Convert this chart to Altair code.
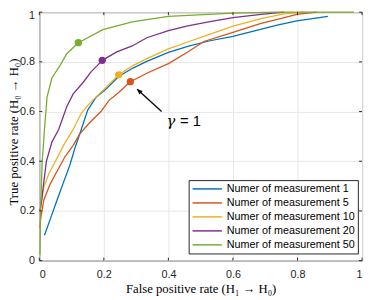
import altair as alt
import pandas as pd

series_labels = [
    "Numer of measurement 1",
    "Numer of measurement 5",
    "Numer of measurement 10",
    "Numer of measurement 20",
    "Numer of measurement 50",
]
series_colors = ["#0072BD", "#D95319", "#EDB120", "#7E2F8E", "#77AC30"]

fpr_m1 = [0.016, 0.034, 0.055, 0.075, 0.095, 0.11, 0.13, 0.15, 0.176, 0.206, 0.246, 0.29, 0.333, 0.4, 0.46, 0.525, 0.6, 0.667, 0.737, 0.798, 0.894]
tpr_m1 = [0.102, 0.167, 0.244, 0.315, 0.386, 0.451, 0.528, 0.606, 0.658, 0.69, 0.741, 0.775, 0.802, 0.838, 0.862, 0.884, 0.903, 0.925, 0.948, 0.965, 0.983]

fpr_m5 = [0.002, 0.004, 0.014, 0.034, 0.055, 0.08, 0.105, 0.125, 0.155, 0.191, 0.216, 0.246, 0.282, 0.333, 0.4, 0.46, 0.51, 0.6, 0.687, 0.75, 0.798, 0.859]
tpr_m5 = [0.13, 0.167, 0.244, 0.309, 0.36, 0.419, 0.464, 0.509, 0.554, 0.6, 0.645, 0.677, 0.72, 0.754, 0.793, 0.84, 0.882, 0.919, 0.955, 0.975, 0.991, 1.0]

fpr_m10 = [0.002, 0.006, 0.014, 0.029, 0.05, 0.075, 0.105, 0.13, 0.155, 0.186, 0.216, 0.246, 0.29, 0.333, 0.4, 0.46, 0.525, 0.6, 0.687, 0.758, 0.818]
tpr_m10 = [0.19, 0.231, 0.296, 0.348, 0.4, 0.464, 0.528, 0.593, 0.632, 0.671, 0.709, 0.748, 0.785, 0.813, 0.852, 0.88, 0.91, 0.944, 0.974, 0.993, 1.0]

fpr_m20 = [0.002, 0.006, 0.012, 0.022, 0.039, 0.06, 0.085, 0.105, 0.135, 0.161, 0.181, 0.195, 0.24, 0.288, 0.333, 0.4, 0.46, 0.525, 0.6, 0.687, 0.758]
tpr_m20 = [0.2, 0.23, 0.296, 0.4, 0.477, 0.528, 0.619, 0.671, 0.716, 0.761, 0.787, 0.806, 0.84, 0.864, 0.897, 0.926, 0.945, 0.961, 0.978, 0.991, 1.0]

fpr_m50 = [0.002, 0.004, 0.009, 0.016, 0.024, 0.039, 0.065, 0.085, 0.121, 0.197, 0.288, 0.333, 0.4, 0.6, 0.737, 0.975]
tpr_m50 = [0.024, 0.205, 0.4, 0.528, 0.658, 0.735, 0.787, 0.833, 0.877, 0.93, 0.961, 0.97, 0.983, 0.996, 1.0, 1.0]

dot_series = [series_labels[1], series_labels[2], series_labels[3], series_labels[4]]
dot_fpr = [0.282, 0.246, 0.195, 0.121]
dot_tpr = [0.72, 0.748, 0.806, 0.877]

tick_values = [0, 0.2, 0.4, 0.6, 0.8, 1]

arrow_tail = (0.379, 0.60)
arrow_tip = (0.303, 0.69)
note_symbol = "γ"
note_rest = "= 1"
note_symbol_pos = (0.408, 0.543)
note_rest_pos = (0.436, 0.543)

W, H = 330, 254
AX = "#262626"

rows = []
for lab, xs, ys in zip(series_labels,
                       [fpr_m1, fpr_m5, fpr_m10, fpr_m20, fpr_m50],
                       [tpr_m1, tpr_m5, tpr_m10, tpr_m20, tpr_m50]):
    for i, (a, b) in enumerate(zip(xs, ys)):
        rows.append({"series": lab, "fpr": a, "tpr": b, "i": i})
df = pd.DataFrame(rows)
dots = pd.DataFrame({"series": dot_series, "fpr": dot_fpr, "tpr": dot_tpr})
ticks = pd.DataFrame({"t": tick_values})

xs = alt.Scale(domain=[0, 1], nice=False, zero=False)
ys = alt.Scale(domain=[0, 1], nice=False, zero=False)
cs = alt.Scale(domain=series_labels, range=series_colors)

x_axis = alt.Axis(values=tick_values, format=".1~f", grid=True, gridColor="#e6e6e6",
                  ticks=False, domain=False, labelPadding=8,
                  titleY=33, titleBaseline="alphabetic",
                  title="False positive rate (H₁ → H₀)")
y_axis = alt.Axis(values=tick_values, format=".1~f", grid=True, gridColor="#e6e6e6",
                  ticks=False, domain=False, labelPadding=5,
                  labelOffset={"condition": {"test": "datum.value == 1", "value": 3}, "value": 0},
                  titleX=-22, titleY=122, titleAngle=-90, titleBaseline="alphabetic",
                  title="True positive rate (H₀ → H₀)")

lines = alt.Chart(df).mark_line(strokeWidth=1.3).encode(
    x=alt.X("fpr:Q", scale=xs, axis=x_axis),
    y=alt.Y("tpr:Q", scale=ys, axis=y_axis),
    color=alt.Color("series:N", scale=cs, sort=series_labels,
                    legend=alt.Legend(orient="none", legendX=152.7, legendY=171.7, title=None,
                                      fillColor="white", strokeColor=AX, padding=3,
                                      symbolType="M-1,0 L5,0", symbolSize=100,
                                      symbolStrokeWidth=1.5,
                                      labelFont="Liberation Sans", labelFontSize=11,
                                      labelColor="black", rowPadding=3.3, labelOffset=24)),
    order="i:Q",
)

pts = alt.Chart(dots).mark_point(filled=True, size=55, opacity=1).encode(
    x=alt.X("fpr:Q", scale=xs),
    y=alt.Y("tpr:Q", scale=ys),
    color=alt.Color("series:N", scale=cs, legend=None),
)

arrow_df = pd.DataFrame({"x": [arrow_tail[0]], "y": [arrow_tail[1]],
                         "x2": [arrow_tip[0]], "y2": [arrow_tip[1]]})
arrow_line = alt.Chart(arrow_df).mark_rule(color="black", strokeWidth=1.3).encode(
    x=alt.X("x:Q", scale=xs), y=alt.Y("y:Q", scale=ys), x2="x2:Q", y2="y2:Q")
arrow_head = alt.Chart(arrow_df).mark_point(
    shape="M0,0 L-0.45,1 L0.45,1 Z", filled=True, color="black", size=120,
    angle=313, opacity=1).encode(
    x=alt.X("x2:Q", scale=xs), y=alt.Y("y2:Q", scale=ys))

sym_df = pd.DataFrame({"x": [note_symbol_pos[0]], "y": [note_symbol_pos[1]], "t": [note_symbol]})
rest_df = pd.DataFrame({"x": [note_rest_pos[0]], "y": [note_rest_pos[1]], "t": [note_rest]})
note_sym = alt.Chart(sym_df).mark_text(font="DejaVu Serif", fontStyle="italic", fontSize=15,
                                       color="black", align="center", baseline="alphabetic").encode(
    x=alt.X("x:Q", scale=xs), y=alt.Y("y:Q", scale=ys), text="t:N")
note_rest_m = alt.Chart(rest_df).mark_text(font="Liberation Sans", fontSize=15, color="black",
                                           align="left", baseline="alphabetic").encode(
    x=alt.X("x:Q", scale=xs), y=alt.Y("y:Q", scale=ys), text="t:N")

tk = dict(color=AX, strokeWidth=1)
tb = alt.Chart(ticks).mark_rule(**tk).encode(x=alt.X("t:Q", scale=xs), y=alt.value(H), y2=alt.value(H - 3))
tt = alt.Chart(ticks).mark_rule(**tk).encode(x=alt.X("t:Q", scale=xs), y=alt.value(0), y2=alt.value(3))
tl = alt.Chart(ticks).mark_rule(**tk).encode(y=alt.Y("t:Q", scale=ys), x=alt.value(0), x2=alt.value(3))
tr = alt.Chart(ticks).mark_rule(**tk).encode(y=alt.Y("t:Q", scale=ys), x=alt.value(W), x2=alt.value(W - 3))

chart = alt.layer(lines, pts, arrow_line, arrow_head, note_sym, note_rest_m, tb, tt, tl, tr).properties(
    width=W, height=H, autosize="none",
    padding={"left": 32, "top": 1, "right": 3, "bottom": 37},
).configure_view(stroke=AX, strokeWidth=1).configure_axis(
    labelFont="Liberation Sans", labelFontSize=11, labelColor=AX,
    titleFont="Liberation Serif", titleFontSize=13, titleFontWeight="normal", titleColor="black",
)

chart.save("out.html", embed_options={"renderer": "svg", "actions": False})
